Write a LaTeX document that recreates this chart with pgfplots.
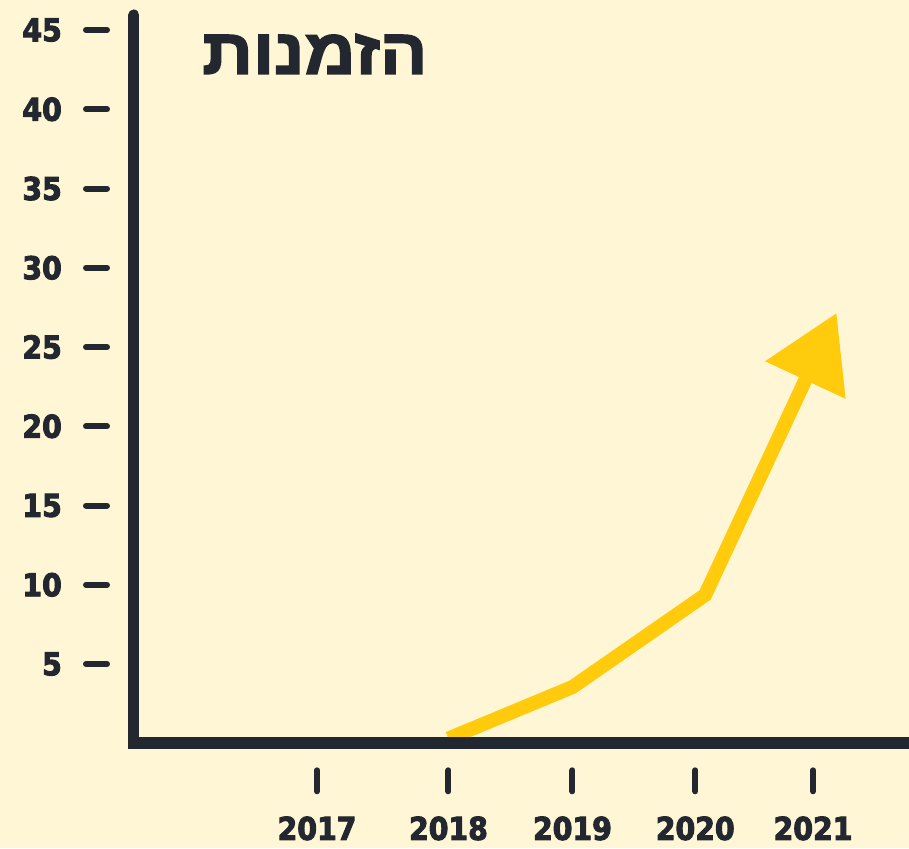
\documentclass[border=0pt]{standalone}
\usepackage{fontspec}
\usepackage{pgfplots}
\pgfplotsset{compat=1.18}
\usetikzlibrary{arrows.meta}
\setmainfont{DejaVu Sans Condensed}[BoldFeatures={FakeBold=3}]
\newfontfamily\hebfont[Script=Hebrew, BoldFeatures={FakeBold=2.5, FakeStretch=1.1}]{Liberation Sans}
\TeXXeTstate=1

\definecolor{bg}{HTML}{FFF6D5}
\definecolor{dark}{HTML}{23272F}
\definecolor{gold}{HTML}{FFCB0C}

\begin{document}
\begin{tikzpicture}
	% page background, also the bounding box
	\fill[bg, use as bounding box] (-134pt,-104.7pt) rectangle (775pt,743.3pt);
	\begin{axis}[
		scale only axis, width=775pt, height=728.3pt,
		xmin=2015.524, xmax=2021.774, ymin=0, ymax=45.95,
		axis lines=left, axis on top, clip=false,
		x axis line style={-, line width=12pt, line cap=rect, color=dark},
		y axis line style={-, line width=11pt, line cap=round, color=dark},
		xtick={2017,2018.06,2019.06,2020.05,2021},
		xticklabels={2017,2018,2019,2020,2021},
		ytick={5,10,...,45},
		tick align=outside, major tick length=21pt,
		tick style={line width=6pt, line cap=round, color=dark},
		xtick style={yshift=-27pt},
		ytick style={xshift=-27pt},
		/pgf/number format/assume math mode=true,
		ticklabel style={font=\bfseries\fontsize{31.5}{31.5}\selectfont, text=dark, inner sep=0pt},
		yticklabel style={anchor=east},
		xticklabel style={anchor=north},
		xticklabel shift=52pt,
		yticklabel shift=51pt,
		title={\hebfont\bfseries\beginR הזמנות\endR},
		title style={at={(rel axis cs:0.2335,0.911)}, anchor=base, inner sep=0pt,
			font=\fontsize{64}{64}\selectfont, text=dark},
	]
		\addplot[color=gold, line width=14pt, line join=miter,
			-{Triangle[width=85pt, length=74pt]}]
			coordinates { (2018.06,0.3) (2019.06,3.55) (2020.13,9.36) (2021.19,27.15) };
	\end{axis}
\end{tikzpicture}
\end{document}
